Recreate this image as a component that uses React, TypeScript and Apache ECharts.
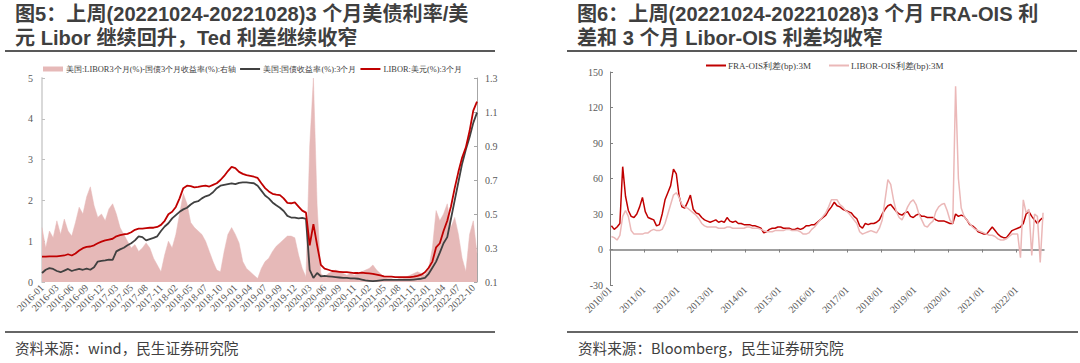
import React, { useEffect, useRef } from "react";
import * as echarts from "echarts";

// ---------- Figure 5 data ----------
const tickLabels5 = [
  "2016-01", "2016-03", "2016-06", "2016-09", "2016-12", "2017-03", "2017-05", "2017-08",
  "2017-11", "2018-02", "2018-05", "2018-07", "2018-10", "2019-01", "2019-04", "2019-07",
  "2019-09", "2019-12", "2020-03", "2020-06", "2020-09", "2020-11", "2021-02", "2021-05",
  "2021-08", "2021-11", "2022-01", "2022-04", "2022-07", "2022-10",
];
// 4 observations per label step, plus one after the last label
const categories5: string[] = [];
tickLabels5.forEach((t, i) => {
  const n = i < tickLabels5.length - 1 ? 4 : 2;
  for (let s = 0; s < n; s++) categories5.push(s === 0 ? t : `${t}#${s}`);
});

const liborUSD = [
  0.62, 0.62, 0.63, 0.63, 0.63, 0.64, 0.65, 0.68, 0.65, 0.70,
  0.77, 0.83, 0.86, 0.87, 0.90, 0.95, 0.99, 1.02, 1.04, 1.06,
  1.12, 1.15, 1.17, 1.18, 1.22, 1.28, 1.31, 1.31, 1.32, 1.33,
  1.33, 1.35, 1.40, 1.50, 1.66, 1.72, 1.84, 2.05, 2.30, 2.36,
  2.35, 2.32, 2.33, 2.35, 2.36, 2.34, 2.38, 2.42, 2.50, 2.60,
  2.72, 2.82, 2.79, 2.70, 2.65, 2.62, 2.60, 2.58, 2.55, 2.42,
  2.30, 2.22, 2.16, 2.14, 2.13, 2.05, 1.94, 1.93, 1.95, 1.85,
  1.75, 1.70, 0.90, 1.42, 0.90, 0.42, 0.33, 0.30, 0.27, 0.26,
  0.25, 0.24, 0.24, 0.23, 0.22, 0.22, 0.23, 0.22, 0.21, 0.20,
  0.18, 0.16, 0.14, 0.13, 0.13, 0.12, 0.12, 0.12, 0.12, 0.12,
  0.13, 0.15, 0.18, 0.24, 0.35, 0.50, 0.85, 0.95, 1.25, 1.50,
  1.85, 2.30, 2.70, 3.05, 3.30, 3.70, 4.20, 4.42,
];
const ust3m = [
  0.22, 0.30, 0.34, 0.32, 0.27, 0.24, 0.28, 0.32, 0.27, 0.30,
  0.32, 0.30, 0.33, 0.30, 0.36, 0.50, 0.52, 0.53, 0.55, 0.54,
  0.75, 0.80, 0.84, 0.90, 0.95, 1.02, 1.12, 1.10, 1.02, 1.05,
  1.08, 1.12, 1.25, 1.36, 1.44, 1.56, 1.64, 1.72, 1.78, 1.82,
  1.90, 1.96, 1.98, 2.05, 2.10, 2.13, 2.20, 2.30, 2.36, 2.38,
  2.40, 2.42, 2.40, 2.43, 2.44, 2.44, 2.43, 2.42, 2.36, 2.24,
  2.12, 2.05, 1.95, 1.88, 1.82, 1.74, 1.62, 1.58, 1.58, 1.56,
  1.57, 1.55, 0.30, 0.10, 0.22, 0.14, 0.15, 0.14, 0.13, 0.12,
  0.11, 0.10, 0.10, 0.09, 0.09, 0.08, 0.06, 0.04, 0.03, 0.02,
  0.03, 0.04, 0.05, 0.05, 0.05, 0.05, 0.05, 0.05, 0.05, 0.05,
  0.06, 0.07, 0.08, 0.10, 0.20, 0.35, 0.50, 0.72, 0.95, 1.10,
  1.55, 2.00, 2.45, 2.90, 3.25, 3.55, 3.90, 4.15,
];
const tedSpread = [
  0.42, 0.30, 0.40, 0.36, 0.46, 0.38, 0.47, 0.40, 0.37, 0.45,
  0.54, 0.50, 0.60, 0.66, 0.55, 0.48, 0.50, 0.46, 0.53, 0.56,
  0.50, 0.42, 0.38, 0.34, 0.30, 0.32, 0.28, 0.30, 0.33, 0.30,
  0.24, 0.20, 0.16, 0.26, 0.34, 0.30, 0.38, 0.50, 0.62, 0.56,
  0.45, 0.42, 0.40, 0.38, 0.34, 0.28, 0.22, 0.17, 0.16, 0.28,
  0.38, 0.42, 0.38, 0.33, 0.22, 0.18, 0.16, 0.14, 0.12, 0.18,
  0.22, 0.24, 0.28, 0.31, 0.33, 0.35, 0.37, 0.37, 0.36, 0.26,
  0.18, 0.13, 0.90, 1.30, 0.55, 0.15, 0.13, 0.15, 0.16, 0.17,
  0.16, 0.15, 0.14, 0.15, 0.14, 0.15, 0.16, 0.17, 0.18, 0.20,
  0.17, 0.15, 0.13, 0.12, 0.12, 0.11, 0.12, 0.12, 0.13, 0.14,
  0.15, 0.16, 0.15, 0.14, 0.18, 0.30, 0.52, 0.46, 0.50, 0.56,
  0.42, 0.48, 0.38, 0.24, 0.16, 0.38, 0.46, 0.27,
];
const rightTicks5 = [0.1, 0.3, 0.5, 0.7, 0.9, 1.1, 1.3];

// ---------- Figure 6 data (monthly, 2010-01 .. 2022-10) ----------
const yearTicks6 = [2010, 2011, 2012, 2013, 2014, 2015, 2016, 2017, 2018, 2019, 2020, 2021, 2022];
const fraOis = [
  20, 17, 19, 22, 70, 45, 33, 28, 27, 30, 36, 44,
  32, 27, 26, 25, 20, 21, 30, 42, 48, 54, 68, 64,
  45, 36, 35, 40, 46, 34, 31, 30, 27, 25, 24, 23,
  24, 25, 23, 24, 23, 27, 24, 23, 24, 22, 22, 21,
  21, 21, 20, 20, 19, 18, 14, 15, 17, 18, 18, 19,
  19, 18, 18, 18, 17, 17, 18, 17, 18, 20, 20, 21,
  21, 23, 25, 27, 29, 33, 36, 40, 37, 36, 34, 33,
  32, 31, 28, 26, 20, 18, 22, 21, 22, 22, 23, 25,
  30, 34, 37, 38, 35, 32, 30, 29, 31, 32, 28, 27,
  29, 30, 28, 28, 27, 27, 27, 25, 24, 24, 24, 23,
  22, 22, 30, 28, 29, 28, 25, 21, 20, 18, 15, 14,
  13, 13, 16, 19, 16, 13, 11, 10, 10, 13, 16, 17,
  18, 19, 22, 30, 32, 28, 25, 22, 25, 27,
];
const liborOis = [
  11, 10, 8, 12, 28, 33, 28, 16, 13, 13, 13, 13,
  14, 14, 16, 17, 16, 16, 17, 22, 30, 38, 46, 48,
  44, 38, 36, 35, 33, 31, 29, 26, 22, 20, 19, 19,
  19, 19, 18, 18, 18, 19, 19, 18, 18, 18, 18, 18,
  19, 19, 18, 18, 18, 17, 16, 15, 15, 15, 16, 16,
  16, 16, 17, 17, 16, 16, 16, 15, 13, 13, 14, 17,
  19, 22, 25, 28, 31, 36, 42, 42, 42, 38, 36, 33,
  31, 28, 25, 22, 15, 13, 14, 15, 16, 15, 14, 18,
  25, 42, 59, 55, 42, 32, 27, 25, 30, 36, 40, 42,
  38, 30, 25, 20, 19, 22, 24, 32, 36, 38, 39, 33,
  25, 22, 138, 60, 35, 28, 25, 22, 19, 17, 16, 15,
  14, 13, 12, 12, 11, 9, 8, 8, 9, 11, 13, 13,
  13, -7, 42, 31, 34, -5, 30, 28, -11, 31,
];
const startYear6 = 2010;
const endYear6 = 2022.82;

const nameSpread = "美国:LIBOR3个月(%)-国债3个月收益率(%):右轴";
const nameUst = "美国:国债收益率(%):3个月";
const nameLibor = "LIBOR:美元(%):3个月";
const nameFra = "FRA-OIS利差(bp):3M";
const nameLois = "LIBOR-OIS利差(bp):3M";

const title5 = ["图5：上周(20221024-20221028)3 个月美债利率/美", "元 Libor 继续回升，Ted 利差继续收窄"];
const title6 = ["图6：上周(20221024-20221028)3 个月 FRA-OIS 利", "差和 3 个月 Libor-OIS 利差均收窄"];
const source5 = "资料来源：wind，民生证券研究院";
const source6 = "资料来源：Bloomberg，民生证券研究院";

const SERIF = "'Liberation Serif', 'DejaVu Serif', serif";
const SANS = "'Noto Sans CJK SC', 'Noto Sans', sans-serif";
const TITLE_FAMILY = "'Liberation Sans', 'Noto Sans CJK SC', sans-serif";
const LINE_ICON = "path://M0,0H20V2H0Z";

export default function App() {
  const ref = useRef<HTMLDivElement>(null);
  useEffect(() => {
    document.body.style.margin = "0";
    if (!ref.current) return;
    const chart = echarts.init(ref.current, null, { renderer: "svg" });
    const monthly = (arr: number[]) => arr.map((v, k) => [startYear6 + (k + 0.5) / 12, v]);
    const axisLabelSerif = { fontFamily: SERIF, fontSize: 10, color: "#595959" };
    const titleFont = `bold 20.1px ${TITLE_FAMILY}`;

    chart.setOption({
      animation: false,
      backgroundColor: "#ffffff",
      graphic: [
        { type: "text", left: 15, top: 4, style: { text: title5[0], font: titleFont, fill: "#3F3F3F" } },
        { type: "text", left: 15, top: 28, style: { text: title5[1], font: titleFont, fill: "#3F3F3F" } },
        { type: "text", left: 577, top: 4, style: { text: title6[0], font: titleFont, fill: "#3F3F3F" } },
        { type: "text", left: 577, top: 28, style: { text: title6[1], font: titleFont, fill: "#3F3F3F" } },
        { type: "line", shape: { x1: 5, y1: 51, x2: 495, y2: 51 }, style: { stroke: "#595959", lineWidth: 2 } },
        { type: "line", shape: { x1: 567, y1: 51, x2: 1077, y2: 51 }, style: { stroke: "#595959", lineWidth: 2 } },
        { type: "line", shape: { x1: 5, y1: 332, x2: 495, y2: 332 }, style: { stroke: "#666666", lineWidth: 2 } },
        { type: "line", shape: { x1: 567, y1: 332, x2: 1078, y2: 332 }, style: { stroke: "#666666", lineWidth: 2 } },
        { type: "text", left: 15, top: 340, style: { text: source5, font: `14.6px ${SANS}`, fill: "#404040" } },
        { type: "text", left: 578, top: 340, style: { text: source6, font: `14.6px ${SANS}`, fill: "#404040" } },
      ],
      legend: [
        {
          left: 43, top: 65, padding: 0, itemWidth: 20, itemHeight: 5, itemGap: 4,
          textStyle: { fontFamily: SERIF, fontSize: 8.4, color: "#404040", padding: [0, 0, 0, -2] },
          data: [{ name: nameSpread, icon: "rect" }, { name: nameUst, icon: LINE_ICON }, { name: nameLibor, icon: LINE_ICON }],
        },
        {
          left: 706, top: 61, padding: 0, itemWidth: 20, itemHeight: 5, itemGap: 18,
          textStyle: { fontFamily: SERIF, fontSize: 9, color: "#404040", padding: [0, 0, 0, -3] },
          data: [{ name: nameFra, icon: LINE_ICON }, { name: nameLois, icon: LINE_ICON }],
        },
      ],
      grid: [
        { left: 42, right: 603, top: 78, bottom: 81, outerBoundsMode: "none" },
        { left: 610, right: 36, top: 72, bottom: 78, outerBoundsMode: "none" },
      ],
      xAxis: [
        {
          gridIndex: 0, type: "category", data: categories5, boundaryGap: false,
          axisLine: { show: false }, axisTick: { show: false }, splitLine: { show: false },
          axisLabel: { ...axisLabelSerif, interval: 3, rotate: 45, margin: 4 },
        },
        {
          gridIndex: 1, type: "value", min: startYear6, max: endYear6, position: "bottom",
          axisLine: { show: true, onZero: true, lineStyle: { color: "#7F7F7F", width: 1.5 } },
          axisTick: { show: true, length: 3, customValues: yearTicks6, lineStyle: { color: "#7F7F7F" } },
          axisLabel: { show: false },
          splitLine: { show: false },
        },
        {
          gridIndex: 1, type: "value", min: startYear6, max: endYear6, position: "bottom",
          axisLine: { show: false, onZero: false }, axisTick: { show: false }, splitLine: { show: false },
          axisLabel: {
            ...axisLabelSerif, rotate: 45, margin: 3, customValues: yearTicks6,
            formatter: (v: number) => `${Math.round(v)}/01`,
          },
        },
      ],
      yAxis: [
        {
          gridIndex: 0, type: "value", min: 0, max: 5, interval: 1,
          axisLine: { show: true, lineStyle: { color: "#D9D9D9", width: 2 } },
          axisTick: { show: true, inside: true, length: 3, lineStyle: { color: "#BFBFBF" } },
          axisLabel: { ...axisLabelSerif, margin: 9 },
          splitLine: { show: false },
        },
        {
          gridIndex: 0, type: "value", position: "right", min: 0.1, max: 1.3,
          axisLine: { show: true, lineStyle: { color: "#A6A6A6", width: 1 } },
          axisTick: { show: true, inside: true, length: 3, customValues: rightTicks5, lineStyle: { color: "#A6A6A6" } },
          axisLabel: { ...axisLabelSerif, margin: 8, customValues: rightTicks5, formatter: (v: number) => v.toFixed(1) },
          splitLine: { show: false },
        },
        {
          gridIndex: 1, type: "value", min: -30, max: 150, interval: 30,
          axisLine: { show: true, lineStyle: { color: "#7F7F7F", width: 1 } },
          axisTick: { show: true, inside: true, length: 3, lineStyle: { color: "#7F7F7F" } },
          axisLabel: { ...axisLabelSerif, margin: 7 },
          splitLine: { show: false },
        },
      ],
      series: [
        {
          name: nameSpread, type: "line", xAxisIndex: 0, yAxisIndex: 1, data: tedSpread,
          symbol: "none", color: "#E6B9B8",
          lineStyle: { color: "#E6B9B8", width: 0.5 },
          areaStyle: { color: "#E6B9B8", opacity: 1 },
        },
        {
          name: nameUst, type: "line", xAxisIndex: 0, yAxisIndex: 0, data: ust3m,
          symbol: "none", color: "#404040", lineStyle: { color: "#404040", width: 1.8 },
        },
        {
          name: nameLibor, type: "line", xAxisIndex: 0, yAxisIndex: 0, data: liborUSD,
          symbol: "none", color: "#C00000", lineStyle: { color: "#C00000", width: 1.8 },
        },
        {
          name: nameFra, type: "line", xAxisIndex: 1, yAxisIndex: 2, data: monthly(fraOis),
          symbol: "none", color: "#C00000", lineStyle: { color: "#C00000", width: 1.5 },
        },
        {
          name: nameLois, type: "line", xAxisIndex: 1, yAxisIndex: 2, data: monthly(liborOis),
          symbol: "none", color: "#EBB8B8", lineStyle: { color: "#EBB8B8", width: 1.5 },
        },
      ],
    });
    return () => chart.dispose();
  }, []);
  return <div ref={ref} style={{ width: 1080, height: 363 }} />;
}
